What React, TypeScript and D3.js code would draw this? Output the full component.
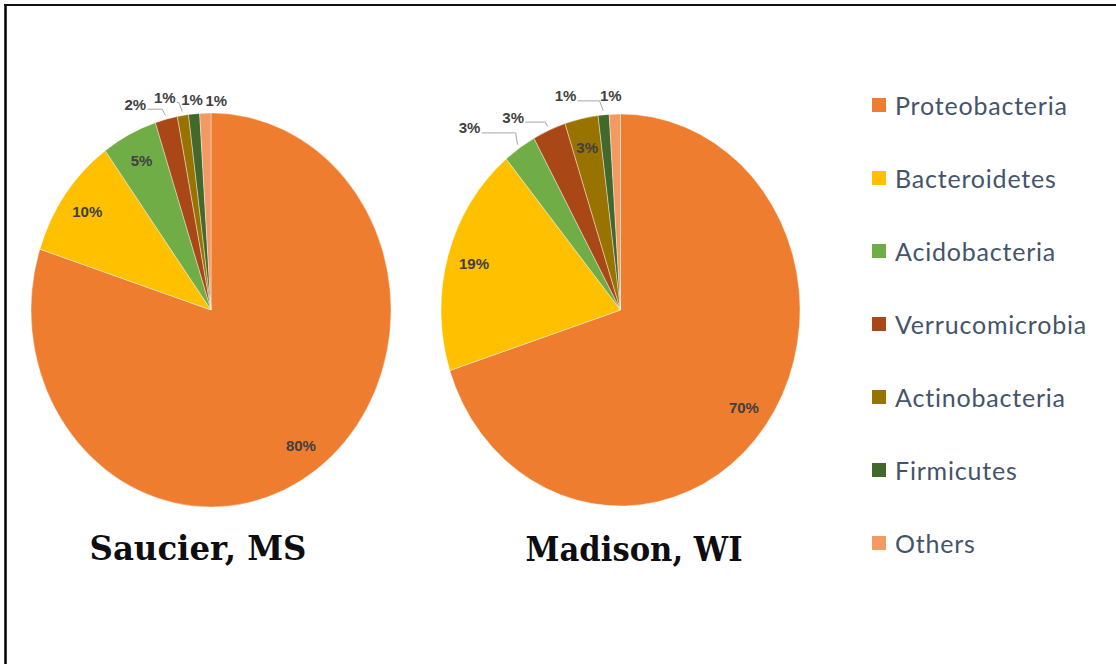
import React from 'react';
import * as d3 from 'd3';

const categories = ['Proteobacteria', 'Bacteroidetes', 'Acidobacteria', 'Verrucomicrobia', 'Actinobacteria', 'Firmicutes', 'Others'];
const saucierValues = [80, 10, 5, 2, 1, 1, 1];
const madisonValues = [70, 19, 3, 3, 3, 1, 1];
const siteNames = ['Saucier, MS', 'Madison, WI'];
const colors = ['#EF7D2F', '#FFC000', '#70AD47', '#AA4716', '#997300', '#43682B', '#F39A62'];

type LabelCfg = { inside?: boolean; nudge?: [number, number]; leader?: boolean };

const saucierLabels: LabelCfg[] = [
  { inside: true }, { inside: true }, { inside: true },
  { nudge: [-31, -15], leader: true },
  { nudge: [-18, -18], leader: true },
  { nudge: [-2, -14] },
  { nudge: [11, -13] },
];
const madisonLabels: LabelCfg[] = [
  { inside: true }, { inside: true },
  { nudge: [-50, -20], leader: true },
  { nudge: [-36, -13], leader: true },
  { inside: true },
  { nudge: [-38, -19], leader: true },
  { nudge: [-4, -19] },
];

const W = 1116;
const H = 664;
const labelFont = 'Liberation Sans, Arial, sans-serif';

function Pie({ values, cx, cy, rx, ry, labels, title, titleX, titleY }: any) {
  const pie = d3.pie<number>().sort(null).value((d) => d);
  const arcs = pie(values);
  const arcGen = d3.arc<d3.PieArcDatum<number>>().innerRadius(0).outerRadius(1);
  const pt = (a: number, k: number) => [cx + rx * Math.sin(a) * k, cy - ry * Math.cos(a) * k];
  return (
    <g>
      <g transform={`translate(${cx},${cy}) scale(${rx},${ry})`}>
        {arcs.map((a, i) => (
          <path key={i} d={arcGen(a) || ''} fill={colors[i]} stroke="#ffffff" strokeWidth={0.4} vectorEffect="non-scaling-stroke" />
        ))}
      </g>
      {arcs.map((a, i) => {
        const mid = (a.startAngle + a.endAngle) / 2;
        const cfg: LabelCfg = labels[i];
        const txt = `${values[i]}%`;
        if (cfg.inside) {
          const [x, y] = pt(mid, 0.85);
          return (
            <text key={i} x={x} y={y} textAnchor="middle" dominantBaseline="central" fontFamily={labelFont} fontWeight="bold" fontSize={15} fill="#404040">{txt}</text>
          );
        }
        const [ax, ay] = pt(mid, 1.0);
        const lx = ax + cfg.nudge![0];
        const ly = ay + cfg.nudge![1];
        const half = txt.length * 4.5;
        const [ex, ey] = pt(mid, 1.02);
        return (
          <g key={i}>
            {cfg.leader && (
              <polyline points={`${lx + half + 3},${ly + 5} ${ax - 4},${ly + 5} ${ex},${ey}`} fill="none" stroke="#A6A6A6" strokeWidth={1} />
            )}
            <text x={lx} y={ly} textAnchor="middle" dominantBaseline="central" fontFamily={labelFont} fontWeight="bold" fontSize={15} fill="#404040">{txt}</text>
          </g>
        );
      })}
      <text x={titleX} y={titleY} textAnchor="middle" fontFamily="DejaVu Serif, serif" fontWeight="bold" fontSize={33} fill="#0d0d12" textLength={217} lengthAdjust="spacingAndGlyphs">{title}</text>
    </g>
  );
}

export default function App() {
  const legendY = d3.scaleLinear().domain([0, categories.length - 1]).range([105, 543]);
  return (
    <svg width={W} height={H} style={{ position: 'absolute', left: 0, top: 0, background: '#ffffff' }}>
      <rect x={0} y={0} width={W} height={H} fill="#ffffff" />
      <line x1={5.5} y1={4} x2={5.5} y2={H} stroke="#000" strokeWidth={2.5} />
      <line x1={4} y1={5} x2={W} y2={5} stroke="#111" strokeWidth={2} />
      <Pie values={saucierValues} cx={211} cy={310} rx={180} ry={197} labels={saucierLabels} title={siteNames[0]} titleX={198} titleY={560} />
      <Pie values={madisonValues} cx={620.5} cy={310} rx={179.5} ry={196} labels={madisonLabels} title={siteNames[1]} titleX={634} titleY={561} />
      {categories.map((c, i) => (
        <g key={c} transform={`translate(872,${legendY(i)})`}>
          <rect x={0} y={-7} width={14} height={14} fill={colors[i]} />
          <text x={23} y={0} dominantBaseline="central" fontFamily="Lato, Open Sans, sans-serif" fontSize={25} letterSpacing={0.8} fill="#44546A">{c}</text>
        </g>
      ))}
    </svg>
  );
}
